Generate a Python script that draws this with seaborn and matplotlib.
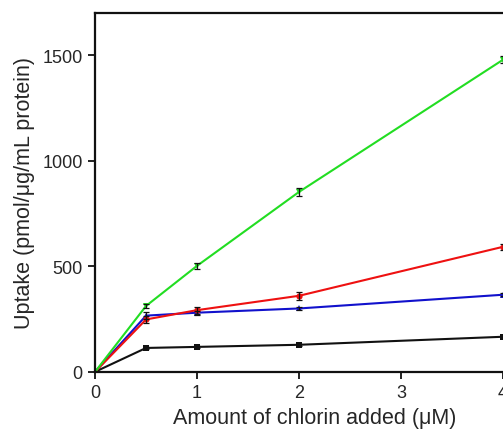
import numpy as np
import pandas as pd
import matplotlib
matplotlib.use("Agg")
import matplotlib.pyplot as plt
import seaborn as sns

# values
conc = [0, 0.5, 1, 2, 4]
green = [0, 312, 502, 852, 1478]
red = [0, 248, 292, 360, 592]
blue = [0, 266, 280, 300, 365]
black = [0, 113, 118, 128, 166]
green_err = [0, 10, 14, 20, 18]
red_err = [0, 18, 16, 18, 15]
blue_err = [0, 16, 10, 6, 8]
black_err = [0, 6, 5, 5, 5]

series = {
    "green": (green, green_err, "#22dd22", "v"),
    "red": (red, red_err, "#ee1111", "o"),
    "blue": (blue, blue_err, "#1111cc", "^"),
    "black": (black, black_err, "#111111", "s"),
}

rows = []
for name, (vals, errs, _, _) in series.items():
    for x, y, e in zip(conc, vals, errs):
        rows.append({"conc": x, "uptake": y, "err": e, "series": name})
df = pd.DataFrame(rows)

sns.set_style("ticks")
plt.rcParams['font.family'] = ['Liberation Sans', 'DejaVu Sans']

fig = plt.figure(figsize=(5.03, 4.31), dpi=100)
ax = fig.add_axes([0.189, 0.135, 0.872, 0.833])

palette = {k: v[2] for k, v in series.items()}
markers = {k: v[3] for k, v in series.items()}
order = ["black", "blue", "red", "green"]
sns.lineplot(data=df, x="conc", y="uptake", hue="series", style="series",
             palette=palette, markers=markers, dashes=False, hue_order=order,
             style_order=order, markersize=4.5, linewidth=1.5, legend=False,
             markeredgewidth=0, ax=ax)
for name in order:
    sub = df[df["series"] == name]
    ax.errorbar(sub["conc"], sub["uptake"], yerr=sub["err"], fmt="none",
                ecolor="#111111", elinewidth=0.9, capsize=2.5, capthick=0.9)

ax.set_xlim(0, 4.3)
ax.set_ylim(0, 1700)
ax.set_xticks([0, 1, 2, 3, 4])
ax.set_yticks([0, 500, 1000, 1500])
ax.set_xlabel("Amount of chlorin added (\u03bcM)", fontsize=15.5, labelpad=4)
ax.set_ylabel("Uptake (pmol/\u03bcg/mL protein)", fontsize=15.5, labelpad=5)
ax.tick_params(labelsize=13, width=1.3, length=5, direction="out", color="#111111", pad=4)
for s in ax.spines.values():
    s.set_linewidth(1.6)
    s.set_color("#111111")

fig.savefig("out.png", dpi=100)
